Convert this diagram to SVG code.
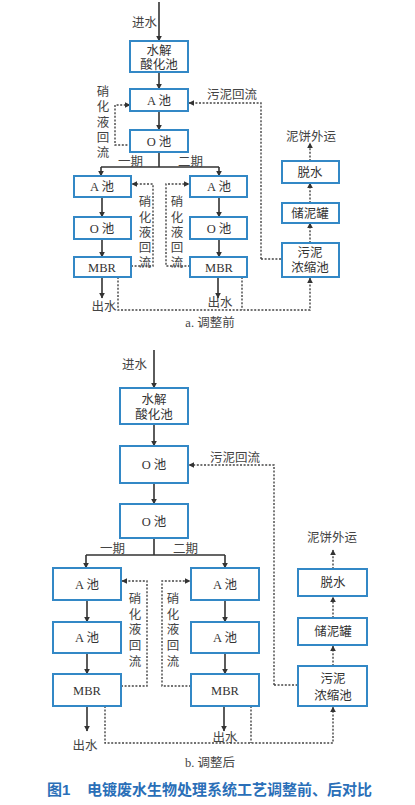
<svg xmlns="http://www.w3.org/2000/svg" width="415" height="805" viewBox="0 0 415 805">
<style>
.box{fill:#fff;stroke:#3388c6;stroke-width:2}
.t{font-family:"Liberation Serif","Noto Sans CJK SC",serif;font-size:12.5px;fill:#333;text-anchor:middle}
.tl{font-family:"Liberation Serif","Noto Sans CJK SC",serif;font-size:12.5px;fill:#444}
.s{fill:none;stroke:#333;stroke-width:1.6}
.d{fill:none;stroke:#444;stroke-width:1.4;stroke-dasharray:2 1.6}
.cap{font-family:"Liberation Sans","Noto Sans CJK SC",sans-serif;font-size:15px;font-weight:bold;fill:#2a6fb8}
</style>
<defs>
<marker id="a" viewBox="0 0 10 10" refX="9" refY="5" markerWidth="6" markerHeight="6" orient="auto" markerUnits="userSpaceOnUse"><path d="M0,0L10,5L0,10z" fill="#333"/></marker>
</defs>
<rect width="415" height="805" fill="#fff"/>
<g id="connectors">
<path class="s" d="M159,2V41" marker-end="url(#a)"/>
<path class="s" d="M159,72V89" marker-end="url(#a)"/>
<path class="s" d="M159,111V130" marker-end="url(#a)"/>
<path class="s" d="M159,152V167M101,167H219"/>
<path class="s" d="M101,167V176" marker-end="url(#a)"/>
<path class="s" d="M219,167V176" marker-end="url(#a)"/>
<path class="s" d="M102,197V217" marker-end="url(#a)"/>
<path class="s" d="M102,239V257" marker-end="url(#a)"/>
<path class="s" d="M219,197V217" marker-end="url(#a)"/>
<path class="s" d="M219,239V257" marker-end="url(#a)"/>
<path class="s" d="M102,277V298" marker-end="url(#a)"/>
<path class="s" d="M218,277V298" marker-end="url(#a)"/>
<path class="d" d="M131,145H115V105H130" marker-end="url(#a)"/>
<path class="d" d="M261,259V103H189" marker-end="url(#a)"/>
<path class="d" d="M261,259H282"/>
<path class="d" d="M131,266H153V184H132" marker-end="url(#a)"/>
<path class="d" d="M190,266H166V184H189" marker-end="url(#a)"/>
<path class="d" d="M118,277V310H310V278" marker-end="url(#a)"/>
<path class="d" d="M242,277V310"/>
<path class="d" d="M310,243V223" marker-end="url(#a)"/>
<path class="d" d="M310,203V183" marker-end="url(#a)"/>
<path class="d" d="M310,161V143" marker-end="url(#a)"/>
<path class="s" d="M154,350V388" marker-end="url(#a)"/>
<path class="s" d="M154,424V446" marker-end="url(#a)"/>
<path class="s" d="M154,483V504" marker-end="url(#a)"/>
<path class="s" d="M154,538V555M86,555H225"/>
<path class="s" d="M86,555V568" marker-end="url(#a)"/>
<path class="s" d="M225,555V568" marker-end="url(#a)"/>
<path class="s" d="M87,600V622" marker-end="url(#a)"/>
<path class="s" d="M87,653V674" marker-end="url(#a)"/>
<path class="s" d="M225,600V622" marker-end="url(#a)"/>
<path class="s" d="M225,653V674" marker-end="url(#a)"/>
<path class="s" d="M87,706V731" marker-end="url(#a)"/>
<path class="s" d="M224,706V731" marker-end="url(#a)"/>
<path class="d" d="M274,685V465H189" marker-end="url(#a)"/>
<path class="d" d="M274,685H298"/>
<path class="d" d="M121,686H147V581H122" marker-end="url(#a)"/>
<path class="d" d="M191,686H162V581H190" marker-end="url(#a)"/>
<path class="d" d="M105,706V743H333V707" marker-end="url(#a)"/>
<path class="d" d="M251,706V743"/>
<path class="d" d="M333,666V646" marker-end="url(#a)"/>
<path class="d" d="M333,618V597" marker-end="url(#a)"/>
<path class="d" d="M333,569V550" marker-end="url(#a)"/>
</g>
<g id="labels">
<text class="tl" x="157" y="27" text-anchor="end">进水</text>
<text class="tl"><tspan x="103" y="96" text-anchor="middle">硝</tspan><tspan x="103" y="111" text-anchor="middle">化</tspan><tspan x="103" y="127" text-anchor="middle">液</tspan><tspan x="103" y="142" text-anchor="middle">回</tspan><tspan x="103" y="157" text-anchor="middle">流</tspan></text>
<text class="tl" x="207" y="99">污泥回流</text>
<text class="tl" x="118" y="166">一期</text>
<text class="tl" x="178" y="166">二期</text>
<text class="tl"><tspan x="145" y="206" text-anchor="middle">硝</tspan><tspan x="145" y="222" text-anchor="middle">化</tspan><tspan x="145" y="237" text-anchor="middle">液</tspan><tspan x="145" y="252" text-anchor="middle">回</tspan><tspan x="145" y="267" text-anchor="middle">流</tspan></text>
<text class="tl"><tspan x="177" y="206" text-anchor="middle">硝</tspan><tspan x="177" y="222" text-anchor="middle">化</tspan><tspan x="177" y="237" text-anchor="middle">液</tspan><tspan x="177" y="252" text-anchor="middle">回</tspan><tspan x="177" y="267" text-anchor="middle">流</tspan></text>
<text class="tl" x="104" y="311" text-anchor="middle">出水</text>
<text class="tl" x="220" y="307" text-anchor="middle">出水</text>
<text class="tl" x="311" y="141" text-anchor="middle">泥饼外运</text>
<text class="tl" x="210" y="327" text-anchor="middle">a. 调整前</text>
<text class="tl" x="147" y="369" text-anchor="end">进水</text>
<text class="tl" x="210" y="462">污泥回流</text>
<text class="tl" x="100" y="553">一期</text>
<text class="tl" x="173" y="553">二期</text>
<text class="tl"><tspan x="135" y="603" text-anchor="middle">硝</tspan><tspan x="135" y="619" text-anchor="middle">化</tspan><tspan x="135" y="634" text-anchor="middle">液</tspan><tspan x="135" y="650" text-anchor="middle">回</tspan><tspan x="135" y="666" text-anchor="middle">流</tspan></text>
<text class="tl"><tspan x="173" y="603" text-anchor="middle">硝</tspan><tspan x="173" y="619" text-anchor="middle">化</tspan><tspan x="173" y="634" text-anchor="middle">液</tspan><tspan x="173" y="650" text-anchor="middle">回</tspan><tspan x="173" y="666" text-anchor="middle">流</tspan></text>
<text class="tl" x="85" y="750" text-anchor="middle">出水</text>
<text class="tl" x="225" y="742" text-anchor="middle">出水</text>
<text class="tl" x="332" y="542" text-anchor="middle">泥饼外运</text>
<text class="tl" x="210" y="767" text-anchor="middle">b. 调整后</text>
<text class="cap" x="47" y="795">图1<tspan x="87">电镀废水生物处理系统工艺调整前、后对比</tspan></text>
</g>
<g id="a-hydrolysis"><rect class="box" x="130" y="41" width="58" height="31"/><text class="t" x="159" y="55">水解</text><text class="t" x="159" y="69">酸化池</text></g>
<g id="a-A"><rect class="box" x="130" y="89" width="58" height="22"/><text class="t" x="159" y="105">A 池</text></g>
<g id="a-O"><rect class="box" x="130" y="130" width="58" height="22"/><text class="t" x="159" y="146">O 池</text></g>
<g id="a-1-A"><rect class="box" x="74" y="176" width="57" height="21"/><text class="t" x="102" y="191">A 池</text></g>
<g id="a-1-O"><rect class="box" x="74" y="217" width="57" height="22"/><text class="t" x="102" y="233">O 池</text></g>
<g id="a-1-MBR"><rect class="box" x="74" y="257" width="57" height="20"/><text class="t" x="102" y="272">MBR</text></g>
<g id="a-2-A"><rect class="box" x="190" y="176" width="57" height="21"/><text class="t" x="219" y="191">A 池</text></g>
<g id="a-2-O"><rect class="box" x="190" y="217" width="57" height="22"/><text class="t" x="219" y="233">O 池</text></g>
<g id="a-2-MBR"><rect class="box" x="190" y="257" width="57" height="20"/><text class="t" x="219" y="272">MBR</text></g>
<g id="a-dewater"><rect class="box" x="282" y="161" width="57" height="22"/><text class="t" x="310" y="177">脱水</text></g>
<g id="a-storage"><rect class="box" x="282" y="203" width="57" height="20"/><text class="t" x="310" y="218">储泥罐</text></g>
<g id="a-thickener"><rect class="box" x="282" y="243" width="57" height="34"/><text class="t" x="310" y="257">污泥</text><text class="t" x="310" y="272">浓缩池</text></g>
<g id="b-hydrolysis"><rect class="box" x="120" y="388" width="68" height="36"/><text class="t" x="154" y="404">水解</text><text class="t" x="154" y="419">酸化池</text></g>
<g id="b-O1"><rect class="box" x="120" y="446" width="68" height="37"/><text class="t" x="154" y="469">O 池</text></g>
<g id="b-O2"><rect class="box" x="120" y="504" width="68" height="34"/><text class="t" x="154" y="526">O 池</text></g>
<g id="b-1-A1"><rect class="box" x="53" y="568" width="68" height="32"/><text class="t" x="87" y="589">A 池</text></g>
<g id="b-1-A2"><rect class="box" x="53" y="622" width="68" height="31"/><text class="t" x="87" y="642">A 池</text></g>
<g id="b-1-MBR"><rect class="box" x="53" y="674" width="68" height="32"/><text class="t" x="87" y="695">MBR</text></g>
<g id="b-2-A1"><rect class="box" x="191" y="568" width="68" height="32"/><text class="t" x="225" y="589">A 池</text></g>
<g id="b-2-A2"><rect class="box" x="191" y="622" width="68" height="31"/><text class="t" x="225" y="642">A 池</text></g>
<g id="b-2-MBR"><rect class="box" x="191" y="674" width="68" height="32"/><text class="t" x="225" y="695">MBR</text></g>
<g id="b-dewater"><rect class="box" x="298" y="569" width="69" height="27"/><text class="t" x="333" y="587">脱水</text></g>
<g id="b-storage"><rect class="box" x="298" y="618" width="69" height="27"/><text class="t" x="333" y="636">储泥罐</text></g>
<g id="b-thickener"><rect class="box" x="298" y="666" width="69" height="40"/><text class="t" x="333" y="683">污泥</text><text class="t" x="333" y="700">浓缩池</text></g>
</svg>
